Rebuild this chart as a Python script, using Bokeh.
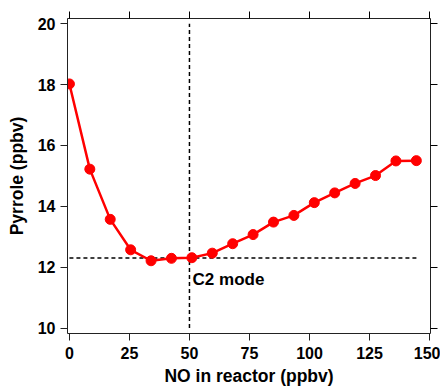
from bokeh.plotting import figure
from bokeh.models import LinearAxis, FixedTicker, Range1d, Label
from bokeh.embed import file_html
from bokeh.resources import INLINE

# Data
no_ppbv = [0, 8.5, 17, 25.5, 34, 42.5, 51, 59.5, 68, 76.5, 85, 93.5, 102, 110.5, 119, 127.5, 136, 144.5]
pyrrole = [18.02, 15.22, 13.57, 12.57, 12.21, 12.29, 12.31, 12.46, 12.77, 13.07, 13.48, 13.70, 14.12, 14.44, 14.75, 15.01, 15.49, 15.50]

hline_x = [0, 145]
hline_y = [12.3, 12.3]
vline_x = [50, 50]
vline_y = [10, 20]

x_ticks = [0, 25, 50, 75, 100, 125, 150]
y_ticks = [10, 12, 14, 16, 18, 20]

FONT = "Liberation Sans"

p = figure(output_backend="svg", toolbar_location=None,
           frame_width=363, frame_height=315,
           x_range=Range1d(-0.8, 150.4), y_range=Range1d(9.82, 20.17),
           x_axis_label="NO in reactor (ppbv)", y_axis_label="Pyrrole (ppbv)",
           min_border_left=67, min_border_top=18, min_border_right=10, min_border_bottom=10)
p.outline_line_color = None
p.xgrid.visible = False
p.ygrid.visible = False
p.background_fill_color = "white"

for ax, ticks in ((p.xaxis[0], x_ticks), (p.yaxis[0], y_ticks)):
    ax.ticker = FixedTicker(ticks=ticks)
    ax.major_tick_out = 7
    ax.major_tick_in = 0
    ax.minor_tick_out = 0
    ax.minor_tick_in = 0
    ax.axis_line_color = "#222222"
    ax.major_tick_line_color = "#222222"
    ax.major_label_text_font = FONT
    ax.major_label_text_font_style = "bold"
    ax.major_label_text_font_size = "16px"
    ax.major_label_text_color = "black"
    ax.axis_label_text_font = FONT
    ax.axis_label_text_font_style = "bold"
    ax.axis_label_text_font_size = "17.5px"
    ax.axis_label_text_color = "black"

p.xaxis[0].major_label_standoff = 6
p.xaxis[0].axis_label_standoff = 4
p.yaxis[0].major_label_standoff = 5
p.yaxis[0].axis_label_standoff = 8

top = LinearAxis(ticker=FixedTicker(ticks=x_ticks))
right = LinearAxis(ticker=FixedTicker(ticks=y_ticks))
for ax in (top, right):
    ax.major_tick_out = 7
    ax.major_tick_in = 0
    ax.minor_tick_out = 0
    ax.minor_tick_in = 0
    ax.major_label_standoff = 0
    ax.major_label_text_color = None
    ax.major_label_text_font_size = "8px"
    ax.axis_line_color = "#222222"
    ax.major_tick_line_color = "black"
    ax.major_tick_line_width = 1
p.add_layout(top, "above")
p.add_layout(right, "right")

# Reference dashed lines
p.line(hline_x, hline_y, line_color="black", line_width=1.5, line_dash="4 3")
p.line(vline_x, vline_y, line_color="black", line_width=1.5, line_dash="4 3")

# Data series
p.line(no_ppbv, pyrrole, line_color="#ff0000", line_width=2.5)
p.scatter(no_ppbv, pyrrole, size=10, fill_color="#ff0000", line_color="#ff0000")

p.add_layout(Label(x=51.3, y=11.6, text="C2 mode", text_font=FONT, text_font_style="bold",
                   text_font_size="17px", text_color="black", text_baseline="alphabetic"))

open("out.html", "w").write(file_html(p, INLINE))
